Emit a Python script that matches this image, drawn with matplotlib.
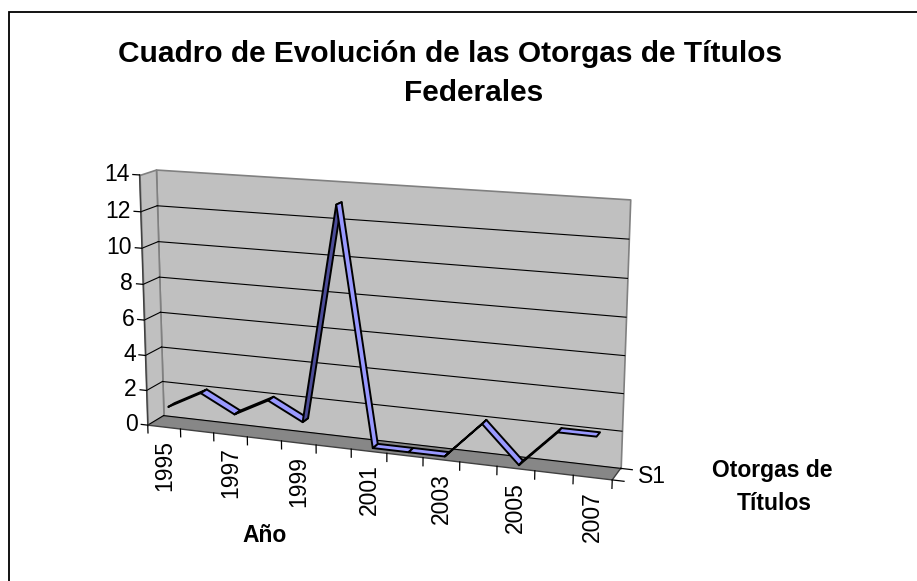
import numpy as np
import matplotlib
matplotlib.use('Agg')
import matplotlib.pyplot as plt
from matplotlib.patches import Rectangle
from mpl_toolkits.mplot3d.art3d import Poly3DCollection

plt.rcParams['font.family'] = ['Liberation Sans', 'DejaVu Sans']

# data
years = [1995, 1996, 1997, 1998, 1999, 2000, 2001, 2002, 2003, 2004, 2005, 2006, 2007]
otorgas = [1, 2, 1, 2, 1, 13, 0, 0, 0, 2, 0, 2, 2]
value_ticks = [0, 2, 4, 6, 8, 10, 12, 14]
series_name = 'S1'

title_1 = 'Cuadro de Evolución de las Otorgas de Títulos'
title_2 = 'Federales'
xlabel = 'Año'
zlabel_1 = 'Otorgas de'
zlabel_2 = 'Títulos'

W, H = 917, 581
fig = plt.figure(figsize=(W / 100, H / 100), dpi=100)

# outer chart frame (only top and left edges fall inside the picture)
fig.patches.append(Rectangle((9 / W, -0.05), 1.2, (H - 12) / H + 0.05,
                             transform=fig.transFigure, fill=False,
                             edgecolor='black', lw=1.3))

fig.text(450 / W, 1 - 62 / H, title_1, ha='center', va='baseline',
         fontsize=21.5, fontweight='bold')
fig.text(474 / W, 1 - 101 / H, title_2, ha='center', va='baseline',
         fontsize=21.5, fontweight='bold')

# 3d box, view fitted to the excel perspective
ax = fig.add_axes([0.10057, -0.03572, 0.60108, 0.94870], projection='3d')
ax.set_xlim(0, len(years))
ax.set_ylim(0, 1)
ax.set_zlim(0, value_ticks[-1])
ax.view_init(elev=14.0834, azim=-69.5695)
ax.set_proj_type('persp', focal_length=0.59317)
ax.set_box_aspect((1, 0.07278, 0.53473))
ax.set_axis_off()
ax.computed_zorder = False
M = ax.get_proj()


def to2d(x, y, z):
    h = M @ np.array([x, y, z, 1.0])
    return h[0] / h[3], h[1] / h[3]


def label(x, y, z, s, **kw):
    u, v = to2d(x, y, z)
    ax.text2D(u, v, s, transform=ax.transData, **kw)


nx = len(years)
ztop = value_ticks[-1]
wall = '#C0C0C0'
edge = '#808080'
fs = 16.5

floor = Poly3DCollection([[(0, 0, 0), (nx, 0, 0), (nx, 1, 0), (0, 1, 0)]],
                         facecolor='#878787', edgecolor='none', zorder=1)
back = Poly3DCollection([[(0, 1, 0), (nx, 1, 0), (nx, 1, ztop), (0, 1, ztop)]],
                        facecolor=wall, edgecolor=edge, lw=1.2, zorder=1)
side = Poly3DCollection([[(0, 0, 0), (0, 1, 0), (0, 1, ztop), (0, 0, ztop)]],
                        facecolor=wall, edgecolor=edge, lw=1.2, zorder=1)
for p in (floor, back, side):
    ax.add_collection3d(p)

# gridlines on back and side walls
for z in value_ticks[:-1]:
    ax.plot([0, nx], [1, 1], [z, z], color='black', lw=0.8, zorder=2)
    ax.plot([0, 0], [0, 1], [z, z], color='black', lw=0.8, zorder=2)

# value axis
ax.plot([0, 0], [0, 0], [0, ztop], color='#404040', lw=1.0, zorder=3)
for z in value_ticks:
    ax.plot([-0.2, 0], [0, 0], [z, z], color='black', lw=0.9, zorder=3)
    label(-0.3, 0, z, str(z), ha='right', va='center', fontsize=fs)

# category axis
ax.plot([0, nx], [0, 0], [0, 0], color='#404040', lw=1.0, zorder=3)
for i in range(nx + 1):
    ax.plot([i, i], [0, 0], [0, -0.45], color='black', lw=0.9, zorder=3)
for i, yr in enumerate(years):
    if i % 2 == 0:
        label(i + 0.5, 0, -0.72, str(yr), rotation=90, ha='center',
              va='top', fontsize=fs)

# series (depth) axis
ax.plot([nx, nx], [0, 1], [0, 0], color='#404040', lw=1.0, zorder=3)
for yy in (0, 1):
    ax.plot([nx, nx + 0.3], [yy, yy], [0, 0], color='black', lw=0.9, zorder=3)
label(nx + 0.55, 0.5, 0, series_name, ha='left', va='center', fontsize=fs)

# ribbon for the line series
y0, y1 = 0.3, 0.7


def screen_area(quad):
    q = np.c_[np.array(quad, float), np.ones(4)] @ M.T
    u, v = q[:, 0] / q[:, 3], q[:, 1] / q[:, 3]
    return 0.5 * np.sum(u * np.roll(v, -1) - np.roll(u, -1) * v)


quads, colors = [], []
for i in range(nx - 1):
    xa, xb = i + 0.5, i + 1.5
    va_, vb_ = otorgas[i], otorgas[i + 1]
    quad = [(xa, y0, va_), (xb, y0, vb_), (xb, y1, vb_), (xa, y1, va_)]
    quads.append(quad)
    colors.append('#9999FF' if screen_area(quad) > 0 else '#4C4C99')
ribbon = Poly3DCollection(quads, facecolors=colors, edgecolors='black',
                          lw=1.4, zorder=5)
ax.add_collection3d(ribbon)

fig.text(265 / W, 1 - 536 / H, xlabel, ha='center', va='center',
         fontsize=fs, fontweight='bold')
fig.text(772 / W, 1 - 471 / H, zlabel_1, ha='center', va='center',
         fontsize=fs, fontweight='bold')
fig.text(774 / W, 1 - 504 / H, zlabel_2, ha='center', va='center',
         fontsize=fs, fontweight='bold')

fig.savefig('out.png', dpi=100)
